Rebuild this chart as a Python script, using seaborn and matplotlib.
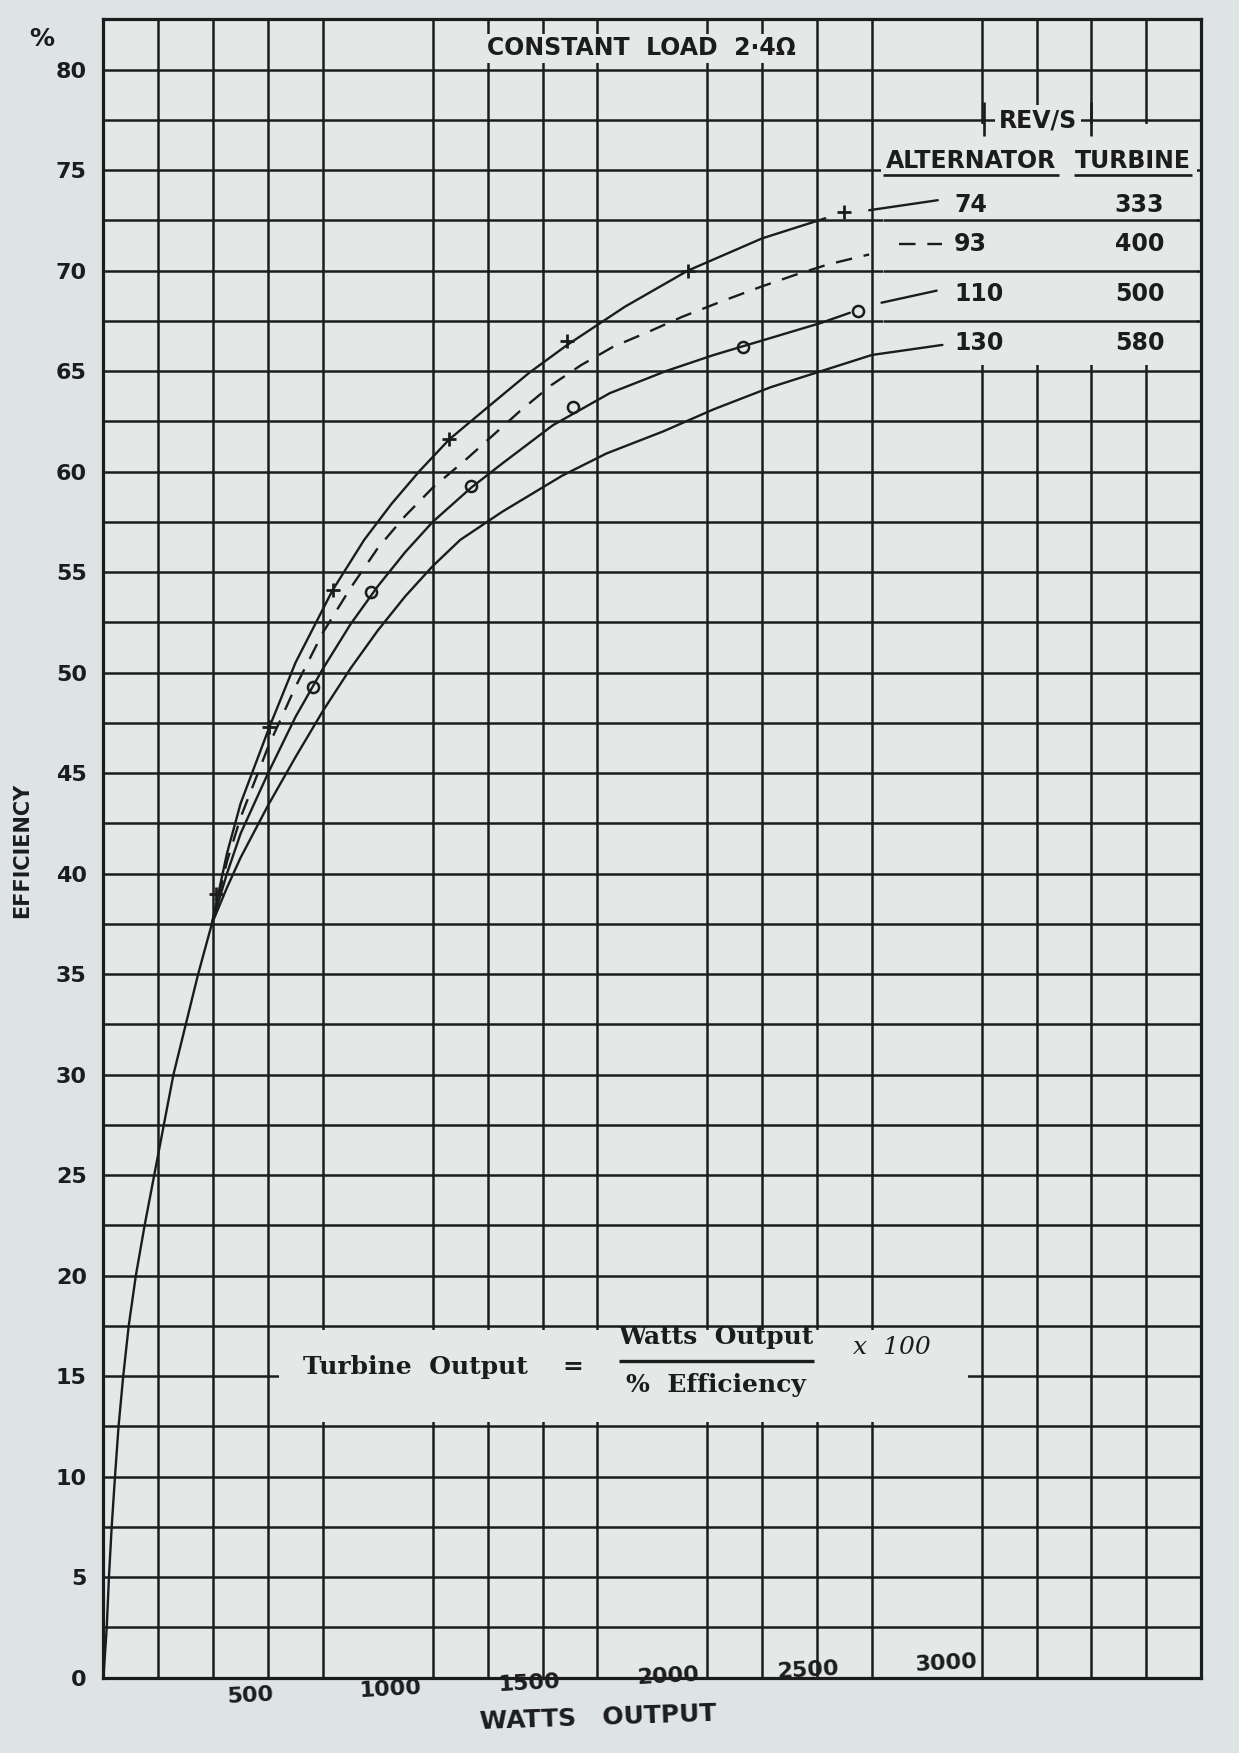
import matplotlib
matplotlib.use("Agg")
import matplotlib.pyplot as plt
import matplotlib.transforms as mtrans
import seaborn as sns
import numpy as np
import pandas as pd
from matplotlib.patches import Rectangle

# ---------------- data (watts output, % efficiency) ----------------
common_w = [0, 12, 20, 30, 42, 55, 72, 92, 118, 150, 185, 220, 255, 300, 345, 395]
common_e = [0, 2.5, 5, 7.5, 10, 12.5, 15, 17.5, 20, 22.5, 25, 27.5, 30, 32.5, 35, 37.5]

rev74_w = [395, 450, 500, 605, 700, 835, 950, 1050, 1150, 1260, 1400, 1550, 1690, 1900, 2130, 2400, 2630]
rev74_e = [37.5, 41.0, 43.5, 47.3, 50.5, 54.1, 56.6, 58.4, 60.0, 61.6, 63.2, 64.9, 66.3, 68.2, 70.0, 71.6, 72.6]
pts74_w = [410, 605, 835, 1260, 1690, 2130, 2700]
pts74_e = [39.0, 47.3, 54.1, 61.6, 66.5, 70.0, 72.9]

rev93_w = [395, 450, 500, 600, 700, 800, 900, 1000, 1100, 1200, 1321, 1517, 1632, 1741, 1856,
           1994, 2109, 2259, 2397, 2524, 2639, 2790]
rev93_e = [37.5, 40.6, 42.8, 46.3, 49.3, 52.0, 54.2, 56.2, 57.8, 59.2, 60.6, 63.0, 64.3, 65.3, 66.2,
           67.0, 67.7, 68.5, 69.2, 69.8, 70.3, 70.8]

rev110_w = [395, 450, 500, 600, 700, 800, 900, 1000, 1100, 1200, 1340, 1453, 1637, 1845, 2050,
            2224, 2420, 2616, 2720]
rev110_e = [37.5, 40.0, 42.0, 45.0, 47.8, 50.2, 52.4, 54.3, 56.0, 57.5, 59.2, 60.4, 62.3, 63.9, 65.0,
            65.8, 66.6, 67.4, 67.9]
pts110_w = [765, 975, 1340, 1710, 2330, 2750]
pts110_e = [49.3, 54.0, 59.3, 63.2, 66.2, 68.0]

rev130_w = [395, 450, 500, 600, 700, 800, 900, 1000, 1100, 1200, 1300, 1453, 1672, 1833, 2040,
            2224, 2432, 2616, 2800, 3057]
rev130_e = [37.5, 39.3, 40.8, 43.4, 45.8, 48.1, 50.2, 52.1, 53.8, 55.3, 56.6, 58.0, 59.8, 60.9, 62.0,
            63.1, 64.2, 65.0, 65.8, 66.3]

lead74_w, lead74_e = [2790, 3040], [73.0, 73.5]
lead93_w, lead93_e = [2900, 3055], [71.3, 71.3]
lead110_w, lead110_e = [2835, 3036], [68.4, 69.0]

alternator = ["74", "93", "110", "130"]
turbine = ["333", "400", "500", "580"]
label_e = [73.25, 71.3, 68.85, 66.4]

x_ticks = [500, 1000, 1500, 2000, 2500, 3000]
y_ticks = list(range(0, 81, 5))

# ---------------- style ----------------
sns.set_theme(style="white")
plt.rcParams["font.family"] = ["DejaVu Sans"]
BG_FIG = "#dde4e3"
BG_AX = "#e4e9e8"
INK = "#1c1c1e"

fig = plt.figure(figsize=(12.39, 17.53), dpi=100, facecolor=BG_FIG)
ax = fig.add_axes([0.0835, 0.043, 0.886, 0.946])
ax.set_facecolor(BG_AX)

ax.set_xlim(0, 4000)
ax.set_ylim(0, 82.5)

# grid (graph paper)
ax.set_xticks(x_ticks)
ax.set_xticklabels([str(t) for t in x_ticks])
ax.set_xticks(np.arange(0, 4001, 200), minor=True)
ax.set_yticks(y_ticks)
ax.set_yticklabels([str(t) for t in y_ticks])
ax.set_yticks(np.arange(2.5, 82.5, 5), minor=True)
ax.set_axisbelow(True)
ax.grid(False)
ax.grid(which="minor", axis="x", color=INK, lw=1.8)
ax.grid(which="both", axis="y", color=INK, lw=1.8)

for s in ax.spines.values():
    s.set_color(INK)
    s.set_linewidth(2.3)

ax.tick_params(axis="x", which="major", direction="in", length=7, width=1.6, color=INK,
               labelsize=16, pad=5, labelcolor=INK)
ax.tick_params(axis="x", which="minor", length=0)
ax.tick_params(axis="y", which="both", length=0, labelsize=16, pad=12, labelcolor=INK)
# the scanned page is slightly skewed: labels drift upward to the right
for k, lab in enumerate(ax.get_xticklabels()):
    lab.set_fontweight("bold")
    lab.set_rotation(3)
    shift = mtrans.ScaledTranslation((10 + 2 * k) / 100, (6.5 * k) / 100, fig.dpi_scale_trans)
    lab.set_transform(lab.get_transform() + shift)
for lab in ax.get_yticklabels():
    lab.set_fontweight("bold")

# blank areas where the paper grid is interrupted
ax.add_patch(Rectangle((640, 12.7), 2510, 4.6, facecolor=BG_AX, edgecolor="none", zorder=1.5))
ax.add_patch(Rectangle((2840, 65.3), 1145, 12.0, facecolor=BG_AX, edgecolor="none", zorder=1.5))
ax.hlines([67.5, 70.0, 72.5], 2840, 3990, color=INK, lw=1.8, zorder=1.6)

# ---------------- curves ----------------
lw = 1.7
dash = (0, (7, 5))
sns.lineplot(x=common_w, y=common_e, ax=ax, color=INK, lw=lw, sort=False, estimator=None, zorder=3)
sns.lineplot(x=rev74_w, y=rev74_e, ax=ax, color=INK, lw=lw, sort=False, estimator=None, zorder=3)
sns.lineplot(x=rev93_w, y=rev93_e, ax=ax, color=INK, lw=lw, sort=False, estimator=None,
             linestyle=dash, zorder=3)
sns.lineplot(x=rev110_w, y=rev110_e, ax=ax, color=INK, lw=lw, sort=False, estimator=None, zorder=3)
sns.lineplot(x=rev130_w, y=rev130_e, ax=ax, color=INK, lw=lw, sort=False, estimator=None, zorder=3)

sns.lineplot(x=lead74_w, y=lead74_e, ax=ax, color=INK, lw=lw, estimator=None, zorder=3)
sns.lineplot(x=lead93_w, y=lead93_e, ax=ax, color=INK, lw=lw, estimator=None,
             linestyle=dash, zorder=3)
sns.lineplot(x=lead110_w, y=lead110_e, ax=ax, color=INK, lw=lw, estimator=None, zorder=3)

sns.lineplot(x=pts74_w, y=pts74_e, ax=ax, color=INK, marker="+", linestyle="", ms=10, mew=2,
             mec=INK, mfc=INK, estimator=None, sort=False, zorder=4)
sns.lineplot(x=pts110_w, y=pts110_e, ax=ax, color=INK, marker="o", linestyle="", ms=8, mew=1.8,
             mfc="none", mec=INK, estimator=None, sort=False, zorder=4)

# ---------------- texts ----------------
lbl = dict(fontsize=17, fontweight="bold", color=INK)
ax.text(1960, 81.05, "CONSTANT  LOAD  2·4\u03a9", ha="center", va="center", zorder=5,
        bbox=dict(facecolor=BG_AX, edgecolor="none", pad=1.5), **lbl)
ax.text(3405, 77.45, "REV/S", ha="center", va="center", zorder=5,
        bbox=dict(facecolor=BG_AX, edgecolor="none", pad=3), **lbl)
ax.vlines([3210, 3600], 76.7, 78.4, color=INK, lw=1.9, zorder=6)
ax.text(3160, 75.45, "ALTERNATOR", ha="center", va="center", zorder=5,
        bbox=dict(facecolor=BG_AX, edgecolor="none", pad=3), **lbl)
ax.text(3752, 75.45, "TURBINE", ha="center", va="center", zorder=5,
        bbox=dict(facecolor=BG_AX, edgecolor="none", pad=3), **lbl)
ax.hlines([74.75, 74.75], [2842, 3536], [3480, 3967], color=INK, lw=1.9, zorder=6)

for a, t, e in zip(alternator, turbine, label_e):
    ax.text(3100, e, a, ha="left", va="center", zorder=5, **lbl)
    ax.text(3775, e, t, ha="center", va="center", zorder=5, **lbl)

serif = dict(family=["DejaVu Serif"], fontsize=18, fontweight="bold", color=INK)
ax.text(1135, 15.45, "Turbine  Output", ha="center", va="center", zorder=5, **serif)
ax.text(1710, 15.45, "=", ha="center", va="center", zorder=5, **serif)
ax.text(2233, 16.95, "Watts  Output", ha="center", va="center", zorder=5, **serif)
ax.hlines(15.75, 1880, 2590, color=INK, lw=2.4, zorder=5)
ax.text(2233, 14.55, "%  Efficiency", ha="center", va="center", zorder=5, **serif)
ax.text(2873, 16.4, "x  100", ha="center", va="center", zorder=5,
        **{**serif, "fontweight": "normal", "fontstyle": "italic"})

ax.text(-225, 81.5, "%", ha="center", va="center", fontsize=18, fontweight="bold",
        color=INK, clip_on=False)
fig.text(0.018, 0.515, "EFFICIENCY", rotation=90, ha="center", va="center", fontsize=15,
         fontweight="bold", color=INK)
fig.text(0.483, 0.020, "WATTS   OUTPUT", ha="center", va="center", fontsize=18, rotation=2,
         fontweight="bold", color=INK)

fig.savefig("out.png", dpi=100, facecolor=BG_FIG)
